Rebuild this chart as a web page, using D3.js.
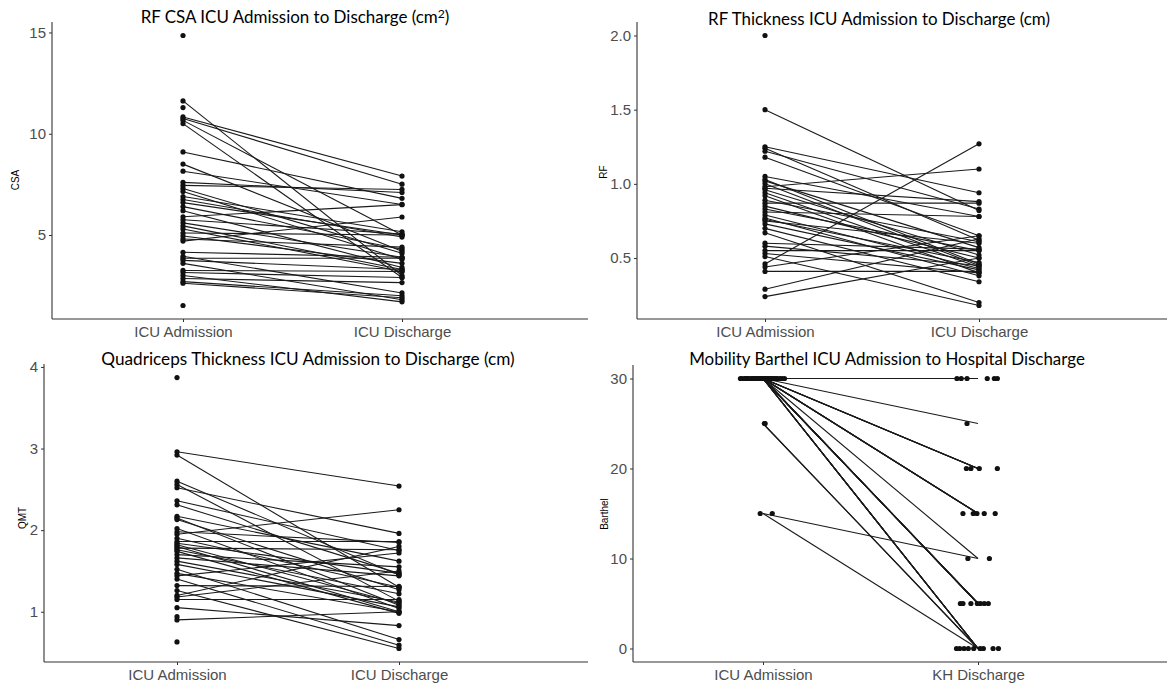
<!DOCTYPE html>
<html>
<head>
<meta charset="utf-8">
<script src="https://cdn.jsdelivr.net/npm/d3@7"></script>
<style>
  body { margin: 0; background: #fff; }
  svg { display: block; }
</style>
</head>
<body>
<div id="chart"></div>
<script>
// ---------- data ----------
var icuCats = ['ICU Admission', 'ICU Discharge'];
var barthelCats = ['ICU Admission', 'KH Discharge'];

// RF cross sectional area (cm2), paired admission -> discharge (null = no follow up)
var csaAdm = [14.85, 11.62, 11.29, 10.83, 10.75, 10.66, 10.5, 9.1, 8.5, 8.15, 7.6, 7.45, 7.3, 7.15,
  6.9, 6.75, 6.6, 6.4, 6.2, 5.9, 5.75, 5.6, 5.45, 5.3, 5.1, 4.95, 4.8, 4.7, 4.15, 3.95, 3.85,
  3.75, 3.6, 3.25, 3.15, 3.0, 2.85, 2.7, 2.62, 1.52];
var csaDis = [null, 3.0, null, 7.91, 7.51, 5.0, 2.9, 6.81, 4.2, 6.51, 7.1, 7.25, 4.1, 3.8,
  5.16, 4.9, 5.0, 4.3, 3.4, 6.5, 5.05, 3.9, 3.3, 3.2, 5.0, 3.6, 4.4, 5.89, 3.9, 2.14, 3.85,
  3.3, 1.8, 3.2, 2.9, 1.7, 2.65, 2.0, 1.9, null];

// RF thickness (cm)
var rfAdm = [2.0, 1.5, 1.25, 1.24, 1.22, 1.18, 1.05, 1.03, 1.02, 1.0, 0.98, 0.97, 0.96, 0.94,
  0.92, 0.89, 0.87, 0.85, 0.83, 0.81, 0.79, 0.77, 0.76, 0.75, 0.73, 0.7, 0.67, 0.6, 0.58,
  0.55, 0.53, 0.51, 0.46, 0.44, 0.41, 0.29, 0.24];
var rfDis = [null, 0.82, 0.94, 0.62, 0.83, 0.65, 0.78, 0.46, 0.57, 0.45, 1.1, 0.88, 0.52, 0.44,
  0.4, 0.61, 0.87, 0.5, 0.55, 0.78, 0.43, 0.38, 0.47, 0.6, 0.42, 0.34, 0.2, 0.56, 0.45,
  0.55, 0.4, 0.18, 1.27, 0.65, 0.41, 0.63, 0.5];

// Quadriceps muscle thickness (cm)
var qmtAdm = [3.87, 2.96, 2.92, 2.6, 2.56, 2.52, 2.36, 2.31, 2.17, 2.15, 2.13, 2.02, 1.98, 1.95,
  1.9, 1.86, 1.84, 1.82, 1.8, 1.78, 1.76, 1.74, 1.7, 1.66, 1.62, 1.58, 1.52, 1.47, 1.44,
  1.4, 1.32, 1.26, 1.2, 1.18, 1.15, 1.05, 0.94, 0.9, 0.63];
var qmtDis = [null, 2.54, 1.3, 1.45, 1.13, 1.96, 1.75, 1.47, 1.62, 1.08, 1.27, 1.04, 1.85, 2.25,
  1.3, 1.86, 1.47, 1.1, 1.0, 1.76, 1.22, 0.98, 1.55, 1.44, 1.12, 1.06, 0.66, 1.0, 1.72,
  0.59, 1.31, 0.55, 1.8, 1.5, 1.15, 0.83, null, 1.0, null];

// Mobility Barthel, with the horizontal jitter (category units)
var barthelAdm = [30, 30, 30, 30, 30, 30, 30, 30, 30, 30, 30, 30, 30, 30, 30, 30, 30,
  30, 30, 30, 30, 30, 30, 30, 30, 30, 30, 30, 30, 30, 25, 25, 15, 15];
var barthelDis = [30, 30, 30, 30, 30, 30, 25, 20, 20, 20, 20, 15, 15, 15, 15, 15, 10,
  5, 5, 5, 5, 5, 5, 5, 0, 0, 0, 0, 0, 0, 0, 0, 10, 0];
var barthelAdmJit = [-0.105, -0.097, -0.085, -0.08, -0.071, -0.066, -0.055, -0.05, -0.042,
  -0.038, -0.03, -0.025, -0.02, -0.012, -0.008, -0.002, 0.004, 0.009, 0.015, 0.02, 0.027,
  0.033, 0.038, 0.045, 0.052, 0.06, 0.066, 0.078, 0.088, 0.1, 0.006, 0.01, -0.013, 0.043];
var barthelDisJit = [-0.098, -0.078, -0.051, 0.043, 0.076, 0.09, -0.051, -0.054, -0.033,
  0.006, 0.09, -0.07, -0.022, -0.005, 0.029, 0.08, 0.053, -0.082, -0.07, -0.033, -0.003,
  0.011, 0.029, 0.048, -0.1, -0.085, -0.065, -0.045, -0.02, 0.01, 0.07, 0.095, -0.047, 0.025];

var csaTicks = [5, 10, 15];
var rfTicks = [0.5, 1.0, 1.5, 2.0];
var qmtTicks = [1, 2, 3, 4];
var barthelTicks = [0, 10, 20, 30];

// ---------- layout ----------
var W = 1167, H = 685;

var panels = [
  { title: 'RF CSA ICU Admission to Discharge (cm', sup: '2', tail: ')',
    titleX: 295, titleY: 23, titleW: 309,
    yLabel: 'CSA', yLabelX: 15, yLabelY: 180,
    cats: icuCats, adm: csaAdm, dis: csaDis, ticks: csaTicks, fmt: d3.format('d'),
    left: 52, right: 588, top: 22, bottom: 319, c0: 183, c1: 402 },
  { title: 'RF Thickness ICU Admission to Discharge (cm)', titleX: 879, titleY: 25, titleW: 342,
    yLabel: 'RF', yLabelX: 603, yLabelY: 172,
    cats: icuCats, adm: rfAdm, dis: rfDis, ticks: rfTicks, fmt: d3.format('.1f'),
    left: 637, right: 1167, top: 22, bottom: 319, c0: 765, c1: 979 },
  { title: 'Quadriceps Thickness ICU Admission to Discharge (cm)', titleX: 308, titleY: 365, titleW: 414,
    yLabel: 'QMT', yLabelX: 22, yLabelY: 518,
    cats: icuCats, adm: qmtAdm, dis: qmtDis, ticks: qmtTicks, fmt: d3.format('d'),
    left: 44, right: 588, top: 364, bottom: 662, c0: 177, c1: 399 },
  { title: 'Mobility Barthel ICU Admission to Hospital Discharge', titleX: 887, titleY: 365, titleW: 396,
    yLabel: 'Barthel', yLabelX: 604, yLabelY: 514,
    cats: barthelCats, adm: barthelAdm, dis: barthelDis, ticks: barthelTicks, fmt: d3.format('d'),
    admJit: barthelAdmJit, disJit: barthelDisJit,
    left: 633, right: 1167, top: 365, bottom: 662, c0: 763, c1: 978 }
];

var axisColor = '#333333';
var tickText = '#4d4d4d';
var markColor = '#111111';

var svg = d3.select('#chart').append('svg')
  .attr('width', W)
  .attr('height', H);

panels.forEach(drawPanel);

function drawPanel(p) {
  var g = svg.append('g');
  var all = p.adm.concat(p.dis).filter(function(v) { return v !== null; });
  var lo = d3.min(all), hi = d3.max(all), pad = (hi - lo) * 0.05;

  var x = d3.scalePoint().domain(p.cats).range([p.c0, p.c1]);
  var step = p.c1 - p.c0;
  var y = d3.scaleLinear().domain([lo - pad, hi + pad]).range([p.bottom, p.top]);

  var rows = p.adm.map(function(a, i) {
    return {
      adm: a, dis: p.dis[i],
      ja: p.admJit ? p.admJit[i] : 0,
      jd: p.disJit ? p.disJit[i] : 0
    };
  });

  // paired lines (drawn from category centres)
  g.selectAll('line.pair')
    .data(rows.filter(function(d) { return d.dis !== null; }))
    .enter().append('line')
    .attr('class', 'pair')
    .attr('x1', x(p.cats[0]))
    .attr('x2', x(p.cats[1]))
    .attr('y1', function(d) { return y(d.adm); })
    .attr('y2', function(d) { return y(d.dis); })
    .style('stroke', '#1a1a1a')
    .style('stroke-width', 1.1);

  // points
  var pts = [];
  rows.forEach(function(d) {
    pts.push({ cx: x(p.cats[0]) + d.ja * step, v: d.adm });
    if (d.dis !== null) pts.push({ cx: x(p.cats[1]) + d.jd * step, v: d.dis });
  });
  g.selectAll('circle')
    .data(pts)
    .enter().append('circle')
    .attr('cx', function(d) { return d.cx; })
    .attr('cy', function(d) { return y(d.v); })
    .attr('r', 2.6)
    .style('fill', markColor);

  // y axis
  var yAxis = g.append('g')
    .attr('transform', 'translate(' + p.left + ',0)')
    .call(d3.axisLeft(y).tickValues(p.ticks).tickFormat(p.fmt).tickSizeOuter(0).tickSize(3).tickPadding(3));
  yAxis.select('.domain').remove();
  yAxis.selectAll('.tick line').style('stroke', axisColor);
  yAxis.selectAll('.tick text')
    .style('fill', tickText)
    .style('font-family', '"Liberation Sans", Arial, sans-serif')
    .style('font-size', '15px');
  g.append('line')
    .attr('x1', p.left).attr('x2', p.left)
    .attr('y1', p.top).attr('y2', p.bottom)
    .style('stroke', axisColor).style('stroke-width', 1.1);

  // x axis
  var xAxis = g.append('g')
    .attr('transform', 'translate(0,' + p.bottom + ')')
    .call(d3.axisBottom(x).tickSize(3).tickPadding(4));
  xAxis.select('.domain').remove();
  xAxis.selectAll('.tick line').style('stroke', axisColor);
  xAxis.selectAll('.tick text')
    .style('fill', tickText)
    .style('font-family', '"Liberation Sans", Arial, sans-serif')
    .style('font-size', '15px');
  g.append('line')
    .attr('x1', p.left).attr('x2', p.right)
    .attr('y1', p.bottom).attr('y2', p.bottom)
    .style('stroke', axisColor).style('stroke-width', 1.1);

  // y axis title
  g.append('text')
    .attr('transform', 'translate(' + p.yLabelX + ',' + p.yLabelY + ') rotate(-90)')
    .attr('text-anchor', 'middle')
    .attr('dy', '0.35em')
    .style('font-family', '"Liberation Sans", Arial, sans-serif')
    .style('font-size', '10px')
    .style('fill', '#000')
    .text(p.yLabel);

  // panel title, sized to the width it has in the original
  var t = g.append('text')
    .attr('x', p.titleX)
    .attr('y', p.titleY)
    .attr('text-anchor', 'middle')
    .style('font-family', 'Lato, "Open Sans", sans-serif')
    .style('font-size', '18px')
    .style('fill', '#000');
  t.append('tspan').text(p.title);
  if (p.sup) {
    t.append('tspan').attr('dy', '-0.4em').style('font-size', '0.72em').text(p.sup);
    t.append('tspan').attr('dy', '0.29em').text(p.tail);
  }
  var w = t.node().getComputedTextLength();
  t.style('font-size', (18 * p.titleW / w).toFixed(2) + 'px');
}
</script>
</body>
</html>
